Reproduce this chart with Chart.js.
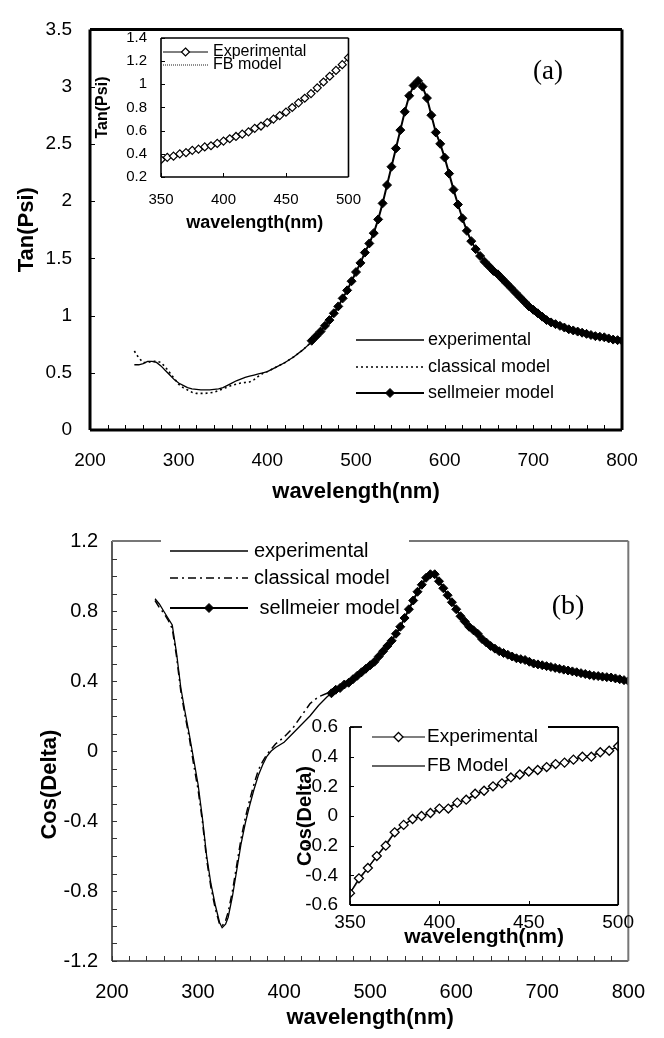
<!DOCTYPE html>
<html>
<head>
<meta charset="utf-8">
<script src="https://cdn.jsdelivr.net/npm/chart.js@4.4.0/dist/chart.umd.min.js"></script>
<style>
  body { margin: 0; background: #fff; width: 664px; height: 1038px; position: relative; overflow: hidden; }
  canvas { position: absolute; }
</style>
</head>
<body>
<canvas id="ca" width="664" height="520" style="left:0px;top:0px"></canvas>
<canvas id="cb" width="664" height="538" style="left:0px;top:500px"></canvas>
<canvas id="ia" width="290" height="225" style="left:85px;top:15px"></canvas>
<canvas id="ib" width="360" height="260" style="left:280px;top:690px"></canvas>
<script>
// ---- (a) Tan(Psi), main panel ----
const aExpWl = [250,255,260,265,270,275,280,285,290,295,300,305,310,315,320,325,330,335,340,345,350,355,360,365,370,375,380,385,390,395,400,410,420,430,440,450,460];
const aExpVal = [0.57,0.57,0.58,0.60,0.60,0.59,0.56,0.52,0.48,0.44,0.41,0.39,0.37,0.36,0.355,0.35,0.35,0.35,0.355,0.36,0.37,0.39,0.41,0.43,0.445,0.46,0.47,0.48,0.49,0.50,0.51,0.55,0.59,0.64,0.70,0.77,0.85];
const aClsVal = [0.69,0.63,0.59,0.59,0.60,0.60,0.59,0.55,0.50,0.45,0.40,0.37,0.35,0.33,0.32,0.32,0.32,0.325,0.33,0.345,0.36,0.375,0.39,0.40,0.41,0.415,0.42,0.44,0.47,0.495,0.51,0.55,0.59,0.64,0.70,0.77,0.85];
const aSelWl = [450,455,460,465,470,475,480,485,490,495,500,505,510,515,520,525,530,535,540,545,550,555,560,565,570,575,580,585,590,595,600,605,610,615,620,625,630,635,640,645,650,655,660,665,670,675,680,685,690,695,700,705,710,715,720,725,730,735,740,745,750,755,760,765,770,775,780,785,790,795,800];
const aSelVal = [0.78,0.82,0.86,0.91,0.96,1.02,1.08,1.15,1.22,1.30,1.38,1.46,1.55,1.63,1.72,1.84,1.98,2.14,2.30,2.46,2.62,2.78,2.92,3.01,3.05,3.00,2.90,2.75,2.60,2.50,2.38,2.24,2.10,1.97,1.85,1.74,1.65,1.58,1.52,1.47,1.43,1.39,1.36,1.32,1.28,1.24,1.20,1.16,1.12,1.08,1.05,1.02,0.99,0.96,0.94,0.925,0.91,0.895,0.88,0.87,0.86,0.85,0.84,0.83,0.82,0.815,0.81,0.80,0.79,0.785,0.78];

// ---- (a) inset ----
const iaWl = [350,355,360,365,370,375,380,385,390,395,400,405,410,415,420,425,430,435,440,445,450,455,460,465,470,475,480,485,490,495,500];
const iaExp = [0.35,0.37,0.38,0.40,0.41,0.43,0.44,0.46,0.47,0.49,0.51,0.53,0.55,0.57,0.59,0.62,0.64,0.67,0.70,0.73,0.76,0.80,0.84,0.88,0.92,0.97,1.02,1.07,1.12,1.17,1.23];
const iaFb = [0.35,0.365,0.38,0.395,0.41,0.425,0.44,0.455,0.47,0.49,0.51,0.53,0.55,0.57,0.59,0.615,0.64,0.67,0.70,0.73,0.76,0.80,0.84,0.88,0.92,0.97,1.02,1.07,1.12,1.17,1.23];

// ---- (b) Cos(Delta), main panel ----
const bExpWl = [250,255,260,265,270,275,280,285,290,295,300,305,310,315,320,325,328,332,335,340,345,350,355,360,365,370,375,380,385,390,400,410,420,430,440,450,460];
const bExpVal = [0.87,0.84,0.80,0.76,0.72,0.56,0.36,0.22,0.09,-0.05,-0.19,-0.38,-0.60,-0.76,-0.88,-0.98,-1.01,-0.99,-0.95,-0.83,-0.68,-0.53,-0.41,-0.31,-0.22,-0.14,-0.08,-0.03,0.0,0.02,0.05,0.10,0.15,0.20,0.26,0.31,0.35];
const bClsVal = [0.86,0.82,0.79,0.75,0.70,0.54,0.34,0.20,0.07,-0.08,-0.22,-0.40,-0.62,-0.78,-0.90,-0.99,-1.00,-0.97,-0.92,-0.80,-0.65,-0.50,-0.38,-0.28,-0.19,-0.11,-0.06,-0.02,0.01,0.04,0.08,0.13,0.20,0.27,0.31,0.33,0.35];
const bSelWl = [455,460,465,470,475,480,485,490,495,500,505,510,515,520,525,530,535,540,545,550,555,560,565,570,575,580,585,590,595,600,605,610,615,620,625,630,635,640,645,650,655,660,665,670,675,680,685,690,695,700,705,710,715,720,725,730,735,740,745,750,755,760,765,770,775,780,785,790,795,800];
const bSelVal = [0.33,0.35,0.36,0.38,0.39,0.41,0.43,0.45,0.47,0.49,0.51,0.54,0.57,0.60,0.63,0.67,0.71,0.76,0.81,0.86,0.91,0.95,0.99,1.01,1.01,0.97,0.93,0.89,0.85,0.81,0.77,0.74,0.71,0.69,0.67,0.64,0.62,0.60,0.585,0.57,0.56,0.55,0.54,0.53,0.525,0.52,0.51,0.50,0.495,0.49,0.485,0.48,0.475,0.47,0.465,0.46,0.455,0.45,0.445,0.44,0.435,0.43,0.428,0.425,0.422,0.42,0.415,0.41,0.405,0.40];

// ---- (b) inset ----
const ibWl = [350,355,360,365,370,375,380,385,390,395,400,405,410,415,420,425,430,435,440,445,450,455,460,465,470,475,480,485,490,495,500];
const ibExp = [-0.52,-0.42,-0.35,-0.27,-0.20,-0.11,-0.06,-0.02,0.0,0.02,0.05,0.05,0.09,0.11,0.15,0.17,0.20,0.22,0.26,0.28,0.30,0.31,0.33,0.35,0.36,0.38,0.40,0.40,0.43,0.44,0.47];
const ibFb = [-0.52,-0.43,-0.35,-0.27,-0.19,-0.11,-0.06,-0.02,0.0,0.02,0.04,0.06,0.09,0.11,0.14,0.17,0.20,0.22,0.25,0.28,0.30,0.31,0.33,0.35,0.36,0.38,0.40,0.41,0.43,0.44,0.47];

Chart.defaults.font.family = "'Liberation Sans', Arial, sans-serif";
Chart.defaults.color = '#000';

function pts(xs, ys) {
  return xs.map((v, i) => ({x: v, y: ys[i]}));
}
const fmt = v => String(Math.round(v * 100) / 100);

function diamond(ctx, x, y, r, fill) {
  ctx.beginPath();
  ctx.moveTo(x, y - r); ctx.lineTo(x + r, y); ctx.lineTo(x, y + r); ctx.lineTo(x - r, y);
  ctx.closePath();
  ctx.fillStyle = fill; ctx.fill();
  ctx.stroke();
}

// inward ticks, frame, legend and panel tag
const framePlugin = {
  id: 'frame',
  afterDraw(chart, args, o) {
    const {ctx, chartArea: c, scales: {x, y}} = chart;
    ctx.save();
    ctx.strokeStyle = o.tickColor || '#000';
    ctx.lineWidth = 1;
    for (let v = x.min; v <= x.max + 1e-6; v += o.xTick) {
      const px = Math.round(x.getPixelForValue(v)) + 0.5;
      ctx.beginPath(); ctx.moveTo(px, c.bottom); ctx.lineTo(px, c.bottom - o.tickLen); ctx.stroke();
    }
    for (let v = y.min; v <= y.max + 1e-6; v += o.yTick) {
      const py = Math.round(y.getPixelForValue(v)) + 0.5;
      ctx.beginPath(); ctx.moveTo(c.left, py); ctx.lineTo(c.left + o.tickLen, py); ctx.stroke();
    }
    const seg = {
      left: [[c.left, c.top, c.left, c.bottom]],
      bottom: [[c.left, c.bottom, c.right, c.bottom]],
      right: [[c.right, c.top, c.right, c.bottom]],
      top: o.topGap ? [[c.left, c.top, o.topGap[0], c.top], [o.topGap[1], c.top, c.right, c.top]]
                    : [[c.left, c.top, c.right, c.top]]
    };
    for (const k in o.sides) {
      const s = o.sides[k];
      ctx.strokeStyle = s.color; ctx.lineWidth = s.width;
      seg[k].forEach(l => {
        ctx.beginPath(); ctx.moveTo(l[0], l[1]); ctx.lineTo(l[2], l[3]); ctx.stroke();
      });
    }
    const lg = o.legend;
    if (lg) {
      ctx.font = lg.font;
      ctx.textBaseline = 'middle';
      lg.items.forEach((di, i) => {
        const ds = chart.data.datasets[di];
        const yy = lg.ys[i];
        ctx.strokeStyle = ds.borderColor; ctx.lineWidth = ds.borderWidth;
        ctx.setLineDash(ds.borderDash || []);
        ctx.beginPath(); ctx.moveTo(lg.x0, yy); ctx.lineTo(lg.x1, yy); ctx.stroke();
        ctx.setLineDash([]);
        if (ds.pointRadius > 0) {
          ctx.lineWidth = ds.pointBorderWidth || 1;
          ctx.strokeStyle = ds.pointBorderColor;
          diamond(ctx, (lg.x0 + lg.x1) / 2, yy, ds.pointRadius, ds.pointBackgroundColor);
        }
        ctx.fillStyle = '#000';
        ctx.fillText(ds.label, lg.textX, yy);
      });
    }
    if (o.tag) {
      ctx.font = o.tag.font; ctx.fillStyle = '#000';
      ctx.textAlign = 'center'; ctx.textBaseline = 'middle';
      ctx.fillText(o.tag.text, o.tag.x, o.tag.y);
    }
    ctx.restore();
  }
};

function makeChart(id, datasets, s) {
  return new Chart(document.getElementById(id), {
    type: 'line',
    data: {datasets: datasets},
    options: {
      responsive: false, animation: false, devicePixelRatio: 1,
      layout: {padding: {left: 0, top: s.padTop, right: s.padRight, bottom: 0}},
      elements: {line: {tension: 0}},
      scales: {
        x: {
          type: 'linear', min: s.xMin, max: s.xMax,
          grid: {display: false, drawTicks: false}, border: {display: false},
          afterFit: sc => { sc.height = s.xHeight; },
          ticks: {stepSize: s.xStep, autoSkip: false, maxRotation: 0, padding: s.xPad,
                  font: {size: s.tickSize}, callback: v => (v % s.xLabelEvery === 0 ? v : '')},
          title: {display: true, text: 'wavelength(nm)', font: {size: s.xTitleSize, weight: 'bold'},
                  padding: {top: 0, bottom: s.xTitlePad}}
        },
        y: {
          min: s.yMin, max: s.yMax,
          grid: {display: false, drawTicks: false}, border: {display: false},
          afterFit: sc => { sc.width = s.yWidth; },
          ticks: {stepSize: s.yStep, padding: s.yPad, font: {size: s.tickSize}, callback: fmt},
          title: {display: true, text: s.yTitle, font: {size: s.yTitleSize, weight: 'bold'},
                  padding: {top: s.yTitlePad, bottom: 0}}
        }
      },
      plugins: {legend: {display: false}, tooltip: {enabled: false}, frame: s.frame}
    },
    plugins: [framePlugin]
  });
}

// main (a)
makeChart('ca', [
  {label: 'sellmeier model', data: pts(aSelWl, aSelVal), borderColor: '#000', borderWidth: 2,
   pointStyle: 'rectRot', pointRadius: 4.5, pointBackgroundColor: '#000', pointBorderColor: '#000', pointBorderWidth: 1, order: 0},
  {label: 'experimental', data: pts(aExpWl, aExpVal), borderColor: '#000', borderWidth: 1.3, pointRadius: 0, order: 1},
  {label: 'classical model', data: pts(aExpWl, aClsVal), borderColor: '#000', borderWidth: 1.6,
   borderDash: [2, 3], pointRadius: 0, order: 2}
], {
  padTop: 15, padRight: 42, xHeight: 90, yWidth: 90,
  xMin: 200, xMax: 800, xStep: 20, xLabelEvery: 100, xPad: 19,
  yMin: 0, yMax: 3.5, yStep: 0.5, yPad: 18, tickSize: 19,
  xTitleSize: 22, xTitlePad: 15, yTitle: 'Tan(Psi)', yTitleSize: 22, yTitlePad: 14,
  frame: {
    xTick: 20, yTick: 0.5, tickLen: 5,
    sides: {left: {color: '#000', width: 3}, bottom: {color: '#000', width: 3},
            right: {color: '#000', width: 3}, top: {color: '#000', width: 3}},
    legend: {x0: 356, x1: 424, textX: 428, ys: [340, 367, 393], items: [1, 2, 0],
             font: "18px 'Liberation Sans', Arial, sans-serif"},
    tag: {text: '(a)', x: 548, y: 72, font: "27px 'Liberation Serif', 'Times New Roman', serif"}
  }
});

// main (b)
makeChart('cb', [
  {label: ' sellmeier model', data: pts(bSelWl, bSelVal), borderColor: '#000', borderWidth: 2,
   pointStyle: 'rectRot', pointRadius: 4.5, pointBackgroundColor: '#000', pointBorderColor: '#000', pointBorderWidth: 1, order: 0},
  {label: 'experimental', data: pts(bExpWl, bExpVal), borderColor: '#000', borderWidth: 1.3, pointRadius: 0, order: 1},
  {label: 'classical model', data: pts(bExpWl, bClsVal), borderColor: '#000', borderWidth: 1.5,
   borderDash: [8, 4, 2, 4], pointRadius: 0, order: 2}
], {
  padTop: 41, padRight: 24, xHeight: 77, yWidth: 112,
  xMin: 200, xMax: 800, xStep: 20, xLabelEvery: 100, xPad: 19,
  yMin: -1.2, yMax: 1.2, yStep: 0.4, yPad: 14, tickSize: 20,
  xTitleSize: 22, xTitlePad: 7,
  yTitle: 'Cos(Delta)' + '\u00a0'.repeat(11), yTitleSize: 22, yTitlePad: 37,
  frame: {
    xTick: 20, yTick: 0.1, tickLen: 5, tickColor: '#333', topGap: [161, 409],
    sides: {left: {color: '#333', width: 1.6}, bottom: {color: '#333', width: 1.6},
            right: {color: '#777', width: 2}, top: {color: '#777', width: 2}},
    legend: {x0: 170, x1: 248, textX: 254, ys: [51, 78, 108], items: [1, 2, 0],
             font: "20px 'Liberation Sans', Arial, sans-serif"},
    tag: {text: '(b)', x: 568, y: 107, font: "28px 'Liberation Serif', 'Times New Roman', serif"}
  }
});

// inset (a)
makeChart('ia', [
  {label: 'Experimental', data: pts(iaWl, iaExp), borderColor: '#000', borderWidth: 1,
   pointStyle: 'rectRot', pointRadius: 4, pointBackgroundColor: '#fff', pointBorderColor: '#000', pointBorderWidth: 1.2, order: 0},
  {label: 'FB model', data: pts(iaWl, iaFb), borderColor: '#444', borderWidth: 1.2,
   borderDash: [1, 1], pointRadius: 0, order: 1}
], {
  padTop: 16, padRight: 17, xHeight: 63, yWidth: 76,
  xMin: 350, xMax: 500, xStep: 50, xLabelEvery: 50, xPad: 14,
  yMin: 0.2, yMax: 1.4, yStep: 0.2, yPad: 14, tickSize: 15,
  xTitleSize: 18, xTitlePad: 6, yTitle: 'Tan(Psi)', yTitleSize: 16, yTitlePad: 8,
  frame: {
    xTick: 50, yTick: 0.2, tickLen: 4,
    sides: {left: {color: '#000', width: 1.6}, bottom: {color: '#000', width: 1.6},
            right: {color: '#000', width: 1.6}, top: {color: '#000', width: 1.6}},
    legend: {x0: 78, x1: 123, textX: 128, ys: [37, 50], items: [0, 1],
             font: "16px 'Liberation Sans', Arial, sans-serif"}
  }
});

// inset (b)
makeChart('ib', [
  {label: 'Experimental', data: pts(ibWl, ibExp), borderColor: '#000', borderWidth: 1.2,
   pointStyle: 'rectRot', pointRadius: 4.5, pointBackgroundColor: '#fff', pointBorderColor: '#000', pointBorderWidth: 1.3, order: 0},
  {label: 'FB Model', data: pts(ibWl, ibFb), borderColor: '#333', borderWidth: 1.3, pointRadius: 0, order: 1}
], {
  padTop: 37, padRight: 17, xHeight: 45, yWidth: 70,
  xMin: 350, xMax: 500, xStep: 50, xLabelEvery: 50, xPad: 6,
  yMin: -0.6, yMax: 0.6, yStep: 0.2, yPad: 12, tickSize: 19,
  xTitleSize: 21, xTitlePad: 0, yTitle: 'Cos(Delta)', yTitleSize: 20, yTitlePad: 13,
  frame: {
    xTick: 50, yTick: 0.2, tickLen: 4, topGap: [82, 268],
    sides: {left: {color: '#000', width: 1.8}, bottom: {color: '#000', width: 1.8},
            right: {color: '#000', width: 1.8}, top: {color: '#000', width: 1.8}},
    legend: {x0: 92, x1: 145, textX: 147, ys: [47, 76], items: [0, 1],
             font: "19px 'Liberation Sans', Arial, sans-serif"}
  }
});
</script>
</body>
</html>
